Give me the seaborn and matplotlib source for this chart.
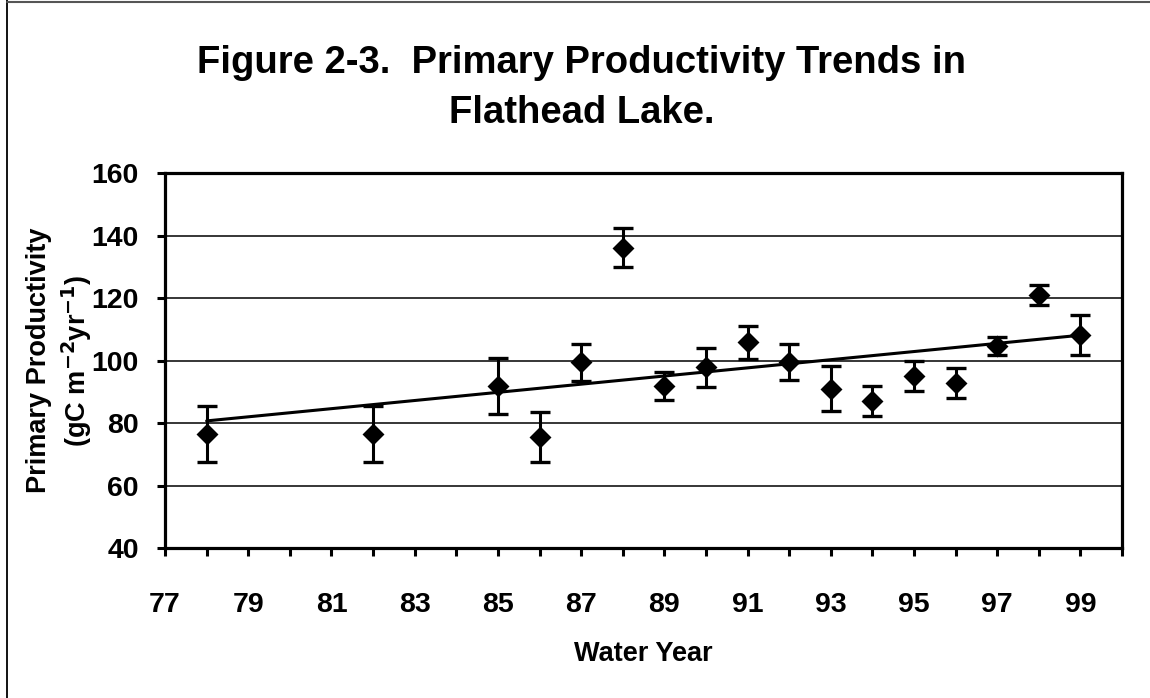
import numpy as np
import pandas as pd
import seaborn as sns
import matplotlib
import matplotlib.pyplot as plt
from matplotlib.lines import Line2D

matplotlib.use("Agg")

# данные
years = [78, 82, 85, 86, 87, 88, 89, 90, 91, 92, 93, 94, 95, 96, 97, 98, 99]
productivity = [76.5, 76.5, 91.9, 75.6, 99.4, 136.1, 91.9, 97.8, 105.8, 99.6,
                90.9, 87.1, 95.0, 92.9, 104.7, 121.0, 108.2]
errors = [9.0, 9.0, 9.0, 8.0, 6.0, 6.3, 4.5, 6.2, 5.4, 5.7,
          7.2, 4.8, 4.8, 4.8, 2.9, 3.3, 6.5]
y_ticks = [40, 60, 80, 100, 120, 140, 160]

df = pd.DataFrame({"year": years, "pp": productivity, "err": errors})

sns.set_style("white")
plt.rcParams["font.family"] = ["Liberation Sans", "DejaVu Sans"]
plt.rcParams["font.weight"] = "bold"
plt.rcParams["text.color"] = "black"
plt.rcParams["axes.labelcolor"] = "black"
plt.rcParams["xtick.color"] = "black"
plt.rcParams["ytick.color"] = "black"
plt.rcParams["axes.unicode_minus"] = False
plt.rcParams["mathtext.default"] = "bf"

fig = plt.figure(figsize=(11.5, 6.98), dpi=100)
ax = fig.add_axes([0.1435, 0.2149, 0.8322, 0.5372])

# сетка
for v in y_ticks[1:-1]:
    ax.axhline(v, color="black", lw=1.1, zorder=0)

# погрешности
ax.errorbar(df["year"], df["pp"], yerr=df["err"], fmt="none", ecolor="black",
            elinewidth=2.2, capsize=7, capthick=2.4, zorder=2)

# точки
sns.scatterplot(x="year", y="pp", data=df, marker="D", color="black",
                s=125, edgecolor="black", linewidth=0, ax=ax, zorder=3)

# линия тренда
sns.regplot(x="year", y="pp", data=df, scatter=False, ci=None,
            line_kws={"color": "black", "lw": 2.2}, ax=ax)

ax.set_xlim(77, 100)
ax.set_ylim(40, 160)
ax.set_xticks(range(77, 101))
ax.set_xticklabels([str(v) if (v - 77) % 2 == 0 and v < 100 else "" for v in range(77, 101)])
ax.set_yticks(y_ticks)
ax.set_yticklabels([str(v) for v in y_ticks])

ax.tick_params(axis="both", direction="out", length=6, width=2.2, color="black",
               labelsize=20.5, bottom=True, left=True)
ax.tick_params(axis="x", pad=26)
ax.tick_params(axis="y", pad=13)
for lab in ax.get_xticklabels() + ax.get_yticklabels():
    lab.set_fontweight("bold")

for sp in ax.spines.values():
    sp.set_visible(True)
    sp.set_color("black")
    sp.set_linewidth(2.3)

ax.set_xlabel("Water Year", fontsize=19.5, fontweight="bold", labelpad=16)
ax.set_ylabel("Primary Productivity\n(gC m$^{-2}$yr$^{-1}$)",
              fontsize=19.5, fontweight="bold", labelpad=-2, linespacing=1.3)

fig.suptitle("Figure 2-3.  Primary Productivity Trends in\nFlathead Lake.",
             x=0.506, y=0.935, fontsize=27.5, fontweight="bold", linespacing=1.5)

# рамка рисунка
fig.add_artist(Line2D([7 / 1150, 7 / 1150], [0, 1], transform=fig.transFigure,
                      color="black", lw=1.3))
fig.add_artist(Line2D([7 / 1150, 1], [1 - 1.5 / 698, 1 - 1.5 / 698],
                      transform=fig.transFigure, color="#555555", lw=1.5))

fig.savefig("out.png", dpi=100)
